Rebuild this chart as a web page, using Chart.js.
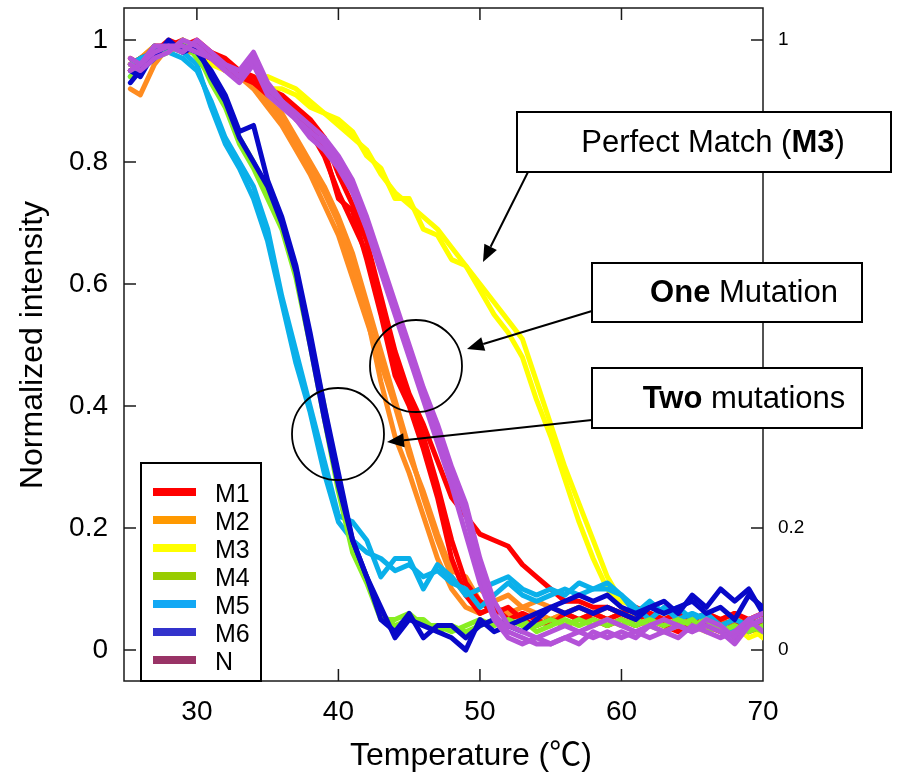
<!DOCTYPE html>
<html>
<head>
<meta charset="utf-8">
<script src="https://cdn.jsdelivr.net/npm/chart.js@4.4.1/dist/chart.umd.min.js"></script>
<style>
  html, body { margin: 0; padding: 0; background: #fff; }
  #wrap { width: 899px; height: 774px; }
</style>
</head>
<body>
<div id="wrap"><canvas id="chart" width="899" height="774"></canvas></div>
<script>
// melting curves, temperature in degC
const temps = [25.3, 26, 27, 28, 29, 30, 31, 32, 33, 34, 35, 36, 37, 38, 39, 40, 41, 42, 43, 44, 45, 46, 47, 48, 49, 50, 51, 52, 53, 54, 55, 56, 57, 58, 59, 60, 61, 62, 63, 64, 65, 66, 67, 68, 69, 70];

const m1a = [0.96,0.97,0.98,1.00,0.99,0.99,0.98,0.97,0.95,0.93,
  0.92,0.90,0.88,0.86,0.82,0.74,0.72,0.64,0.55,0.45,
  0.40,0.33,0.25,0.15,0.09,0.06,0.07,0.05,0.06,0.05,
  0.04,0.06,0.05,0.06,0.05,0.06,0.05,0.06,0.04,0.05,
  0.04,0.05,0.04,0.05,0.03,0.04];
const m1b = [0.95,0.96,0.99,0.99,1.00,0.98,0.97,0.96,0.95,0.94,
  0.92,0.91,0.89,0.87,0.84,0.78,0.73,0.67,0.58,0.49,
  0.42,0.37,0.31,0.25,0.22,0.19,0.18,0.17,0.14,0.12,
  0.10,0.08,0.08,0.07,0.07,0.06,0.07,0.06,0.05,0.06,
  0.05,0.06,0.05,0.06,0.05,0.06];
const m1c = [0.97,0.96,0.98,0.99,0.99,1.00,0.98,0.96,0.94,0.93,
  0.91,0.90,0.87,0.85,0.81,0.75,0.70,0.65,0.57,0.47,
  0.41,0.35,0.27,0.18,0.11,0.08,0.06,0.07,0.05,0.04,
  0.05,0.04,0.05,0.05,0.04,0.05,0.04,0.05,0.04,0.03,
  0.05,0.04,0.03,0.04,0.05,0.04];

const m2a = [0.92,0.91,0.96,0.99,0.98,0.98,0.97,0.96,0.95,0.93,
  0.90,0.87,0.83,0.79,0.75,0.70,0.63,0.55,0.44,0.35,
  0.29,0.22,0.15,0.10,0.07,0.06,0.07,0.06,0.05,0.06,
  0.05,0.06,0.05,0.06,0.05,0.06,0.05,0.04,0.05,0.06,
  0.05,0.04,0.05,0.04,0.05,0.04];
const m2b = [0.95,0.96,0.98,0.99,0.99,0.98,0.97,0.95,0.94,0.92,
  0.89,0.86,0.82,0.78,0.73,0.68,0.61,0.54,0.47,0.40,
  0.32,0.26,0.19,0.13,0.12,0.08,0.07,0.06,0.07,0.06,
  0.05,0.06,0.07,0.06,0.05,0.06,0.05,0.06,0.05,0.04,
  0.05,0.06,0.05,0.04,0.05,0.06];
const m2c = [0.96,0.97,0.99,0.98,1.00,0.99,0.97,0.96,0.94,0.93,
  0.90,0.88,0.84,0.80,0.76,0.71,0.65,0.57,0.49,0.41,
  0.33,0.25,0.18,0.12,0.09,0.10,0.08,0.09,0.07,0.08,
  0.07,0.06,0.07,0.06,0.07,0.06,0.05,0.06,0.05,0.06,
  0.05,0.04,0.05,0.06,0.04,0.05];

const m3a = [0.95,0.96,0.98,0.99,0.98,0.99,0.97,0.96,0.95,0.93,
  0.94,0.93,0.92,0.90,0.88,0.86,0.84,0.82,0.78,0.75,
  0.73,0.71,0.69,0.66,0.63,0.60,0.57,0.54,0.51,0.44,
  0.37,0.30,0.24,0.18,0.12,0.08,0.07,0.05,0.05,0.04,
  0.05,0.04,0.03,0.04,0.02,0.03];
const m3b = [0.96,0.97,0.99,0.98,0.99,0.98,0.96,0.95,0.94,0.94,
  0.92,0.92,0.91,0.89,0.88,0.87,0.85,0.81,0.79,0.74,
  0.74,0.69,0.68,0.64,0.63,0.59,0.55,0.52,0.48,0.41,
  0.35,0.28,0.21,0.15,0.10,0.07,0.05,0.06,0.04,0.05,
  0.04,0.03,0.04,0.03,0.04,0.02];

const m4a = [0.96,0.95,0.98,0.99,0.99,0.98,0.93,0.89,0.83,0.79,
  0.74,0.69,0.61,0.50,0.38,0.26,0.16,0.11,0.05,0.05,
  0.06,0.04,0.04,0.03,0.04,0.05,0.04,0.05,0.04,0.04,
  0.05,0.04,0.05,0.04,0.05,0.04,0.05,0.04,0.03,0.04,
  0.05,0.03,0.04,0.02,0.04,0.03];
const m4b = [0.94,0.95,0.97,0.98,1.00,0.97,0.94,0.90,0.84,0.80,
  0.75,0.70,0.62,0.51,0.40,0.27,0.17,0.12,0.06,0.04,
  0.05,0.05,0.03,0.04,0.03,0.04,0.05,0.04,0.05,0.03,
  0.04,0.05,0.04,0.05,0.04,0.05,0.04,0.05,0.04,0.05,
  0.04,0.05,0.03,0.04,0.03,0.04];

const m5a = [0.94,0.96,0.99,0.98,0.97,0.95,0.90,0.84,0.80,0.76,
  0.69,0.58,0.49,0.40,0.31,0.22,0.21,0.18,0.12,0.15,
  0.15,0.10,0.14,0.12,0.09,0.10,0.11,0.12,0.10,0.09,
  0.10,0.09,0.11,0.10,0.10,0.09,0.07,0.05,0.07,0.05,
  0.06,0.05,0.04,0.03,0.05,0.03];
const m5b = [0.96,0.97,0.98,0.99,0.98,0.96,0.89,0.83,0.79,0.74,
  0.67,0.57,0.47,0.39,0.29,0.21,0.18,0.16,0.15,0.13,
  0.14,0.12,0.13,0.11,0.10,0.07,0.09,0.11,0.09,0.08,
  0.09,0.10,0.09,0.10,0.11,0.09,0.06,0.08,0.06,0.07,
  0.05,0.06,0.04,0.05,0.04,0.05];

const m6a = [0.95,0.94,0.98,0.99,0.99,0.98,0.95,0.91,0.85,0.86,
  0.77,0.71,0.63,0.52,0.40,0.29,0.18,0.12,0.05,0.03,
  0.06,0.02,0.04,0.04,0.02,0.04,0.05,0.04,0.05,0.06,
  0.07,0.06,0.07,0.06,0.07,0.06,0.05,0.07,0.06,0.07,
  0.08,0.06,0.07,0.05,0.09,0.07];
const m6b = [0.93,0.95,0.97,1.00,0.98,0.99,0.94,0.90,0.84,0.80,
  0.76,0.70,0.62,0.50,0.38,0.27,0.18,0.12,0.07,0.02,
  0.05,0.04,0.03,0.02,0.00,0.05,0.03,0.04,0.03,0.05,
  0.07,0.08,0.09,0.08,0.09,0.07,0.06,0.07,0.08,0.06,
  0.09,0.07,0.10,0.08,0.10,0.06];

const nA = [0.95,0.96,0.98,0.99,0.99,0.98,0.97,0.96,0.94,0.97,
  0.92,0.90,0.87,0.85,0.83,0.80,0.76,0.70,0.63,0.56,
  0.49,0.42,0.35,0.29,0.22,0.13,0.06,0.03,0.02,0.01,
  0.01,0.02,0.03,0.02,0.03,0.02,0.03,0.02,0.03,0.04,
  0.03,0.04,0.03,0.01,0.04,0.05];
const nB = [0.96,0.95,0.97,0.98,1.00,0.99,0.97,0.95,0.93,0.96,
  0.91,0.89,0.87,0.84,0.82,0.79,0.75,0.69,0.62,0.55,
  0.48,0.41,0.34,0.27,0.19,0.11,0.05,0.02,0.01,0.02,
  0.01,0.02,0.01,0.03,0.02,0.03,0.02,0.04,0.03,0.02,
  0.04,0.03,0.02,0.03,0.05,0.03];
const nC = [0.97,0.96,0.99,0.99,0.98,1.00,0.98,0.96,0.95,0.98,
  0.93,0.90,0.88,0.86,0.84,0.81,0.77,0.71,0.64,0.57,
  0.50,0.43,0.37,0.30,0.24,0.15,0.08,0.04,0.03,0.02,
  0.03,0.04,0.03,0.04,0.05,0.04,0.03,0.04,0.05,0.04,
  0.03,0.05,0.04,0.02,0.05,0.06];

const seriesNames = ['M1', 'M2', 'M3', 'M4', 'M5', 'M6', 'N'];
const seriesTraces = [[m1a, m1b, m1c], [m2a, m2b, m2c], [m3a, m3b], [m4a, m4b], [m5a, m5b], [m6a, m6b], [nA, nB, nC]];
const lineColors = ['#ff0000', '#ff8c20', '#ffff00', '#88ee22', '#0ab0ea', '#0808c8', '#b452d8'];
const legendColors = ['#ff0000', '#ff9900', '#ffff00', '#99cc00', '#12a8f4', '#3333cc', '#993366'];
const drawOrder = [4, 5, 6, 2, 3, 1, 0]; // lower = on top

const xTicks = [30, 40, 50, 60, 70];
const yTicks = [0, 0.2, 0.4, 0.6, 0.8, 1];
const y2Ticks = [0, 0.2, 1];

const FONT = "'Liberation Sans', Arial, 'Noto Sans CJK JP', sans-serif";
Chart.defaults.font.family = FONT;
Chart.defaults.color = '#000';

const datasets = [];
seriesNames.forEach((name, s) => {
  seriesTraces[s].forEach(tr => {
    datasets.push({
      label: name,
      data: temps.map((t, i) => ({ x: t, y: tr[i] })),
      borderColor: lineColors[s],
      borderWidth: 5,
      borderJoinStyle: 'round',
      borderCapStyle: 'round',
      pointRadius: 0,
      fill: false,
      tension: 0,
      order: drawOrder[s]
    });
  });
});

const fmt = v => String(Math.round(v * 10) / 10);

// keep the plot box where the reference has it
const fixPad = s => { s.paddingTop = 0; s.paddingBottom = 0; s.paddingLeft = 0; s.paddingRight = 0; };

function arrow(ctx, x1, y1, x2, y2) {
  const a = Math.atan2(y2 - y1, x2 - x1);
  const hl = 17, hw = 7;
  const bx = x2 - Math.cos(a) * hl, by = y2 - Math.sin(a) * hl;
  ctx.beginPath();
  ctx.moveTo(x1, y1);
  ctx.lineTo(bx, by);
  ctx.stroke();
  ctx.beginPath();
  ctx.moveTo(x2, y2);
  ctx.lineTo(bx + Math.sin(a) * hw, by - Math.cos(a) * hw);
  ctx.lineTo(bx - Math.sin(a) * hw, by + Math.cos(a) * hw);
  ctx.closePath();
  ctx.fill();
}

// label made of [text, bold] pieces, centred on cx
function richText(ctx, parts, cx, cy, size) {
  let total = 0;
  const widths = parts.map(([txt, bold]) => {
    ctx.font = (bold ? 'bold ' : '') + size + 'px ' + FONT;
    const w = ctx.measureText(txt).width;
    total += w;
    return w;
  });
  let x = cx - total / 2;
  ctx.textAlign = 'left';
  ctx.textBaseline = 'middle';
  parts.forEach(([txt, bold], i) => {
    ctx.font = (bold ? 'bold ' : '') + size + 'px ' + FONT;
    ctx.fillText(txt, x, cy);
    x += widths[i];
  });
}

const framePlugin = {
  id: 'frame',
  beforeDatasetsDraw(chart) {
    const { ctx, chartArea: ca, scales } = chart;
    ctx.save();
    ctx.strokeStyle = '#1a1a1a';
    ctx.lineWidth = 1.5;
    ctx.strokeRect(ca.left, ca.top, ca.right - ca.left, ca.bottom - ca.top);
    ctx.beginPath();
    xTicks.forEach(v => {
      const px = scales.x.getPixelForValue(v);
      if (px >= ca.right - 2) return;
      ctx.moveTo(px, ca.bottom); ctx.lineTo(px, ca.bottom - 12);
      ctx.moveTo(px, ca.top); ctx.lineTo(px, ca.top + 12);
    });
    yTicks.forEach(v => {
      const py = scales.y.getPixelForValue(v);
      ctx.moveTo(ca.left, py); ctx.lineTo(ca.left + 12, py);
    });
    y2Ticks.forEach(v => {
      const py = scales.y2.getPixelForValue(v);
      ctx.moveTo(ca.right, py); ctx.lineTo(ca.right - 12, py);
    });
    ctx.stroke();
    ctx.restore();
  },
  afterDraw(chart) {
    const { ctx } = chart;
    ctx.save();
    ctx.fillStyle = '#000';

    // axis titles
    ctx.font = '32px ' + FONT;
    ctx.textAlign = 'center';
    ctx.textBaseline = 'alphabetic';
    ctx.fillText('Temperature (\u2103)', 471, 765);
    ctx.save();
    ctx.translate(33, 345);
    ctx.rotate(-Math.PI / 2);
    ctx.textBaseline = 'middle';
    ctx.fillText('Normalized intensity', 0, 0);
    ctx.restore();

    // arrows
    ctx.strokeStyle = '#000';
    ctx.lineWidth = 2;
    arrow(ctx, 528, 172, 483, 262);
    arrow(ctx, 592, 311, 467, 349);
    arrow(ctx, 592, 420, 387, 442);

    // label boxes
    const boxes = [
      { x: 517, y: 112, w: 374, h: 60, parts: [['Perfect Match (', false], ['M3', true], [')', false]], cx: 713 },
      { x: 592, y: 263, w: 270, h: 59, parts: [['One', true], [' Mutation', false]], cx: 744 },
      { x: 592, y: 368, w: 270, h: 60, parts: [['Two', true], [' mutations', false]], cx: 744 }
    ];
    boxes.forEach(b => {
      ctx.fillStyle = '#fff';
      ctx.fillRect(b.x, b.y, b.w, b.h);
      ctx.strokeRect(b.x, b.y, b.w, b.h);
      ctx.fillStyle = '#000';
      richText(ctx, b.parts, b.cx, b.y + b.h / 2 + 1, 31);
    });

    // circles
    ctx.lineWidth = 1.8;
    [[416, 366], [338, 434]].forEach(([cx, cy]) => {
      ctx.beginPath();
      ctx.arc(cx, cy, 46, 0, Math.PI * 2);
      ctx.stroke();
    });

    // legend
    ctx.fillStyle = '#fff';
    ctx.fillRect(141, 463, 120, 218);
    ctx.lineWidth = 2;
    ctx.strokeRect(141, 463, 120, 218);
    ctx.font = '25px ' + FONT;
    ctx.textAlign = 'left';
    ctx.textBaseline = 'middle';
    seriesNames.forEach((name, i) => {
      const y = 492 + i * 28;
      ctx.strokeStyle = legendColors[i];
      ctx.lineWidth = 8;
      ctx.beginPath();
      ctx.moveTo(153, y);
      ctx.lineTo(196, y);
      ctx.stroke();
      ctx.fillStyle = '#000';
      ctx.fillText(name, 215, y + 3);
    });
    ctx.restore();
  }
};

new Chart(document.getElementById('chart'), {
  type: 'line',
  data: { datasets },
  plugins: [framePlugin],
  options: {
    responsive: false,
    animation: false,
    layout: { padding: { top: 8, left: 0, right: 0, bottom: 0 } },
    plugins: { legend: { display: false }, tooltip: { enabled: false } },
    scales: {
      x: {
        type: 'linear', min: 24.85, max: 70,
        afterBuildTicks: s => { s.ticks = xTicks.map(v => ({ value: v })); },
        afterFit: s => { s.height = 93; fixPad(s); },
        grid: { display: false, drawTicks: false },
        border: { display: false },
        ticks: { font: { size: 28 }, color: '#000', padding: 14, maxRotation: 0, autoSkip: false }
      },
      y: {
        position: 'left', min: -0.0508, max: 1.0525,
        afterBuildTicks: s => { s.ticks = yTicks.map(v => ({ value: v })); },
        afterFit: s => { s.width = 124; fixPad(s); },
        grid: { display: false, drawTicks: false },
        border: { display: false },
        ticks: { font: { size: 28 }, color: '#000', padding: 16, callback: fmt }
      },
      y2: {
        position: 'right', min: -0.0508, max: 1.0525,
        afterBuildTicks: s => { s.ticks = y2Ticks.map(v => ({ value: v })); },
        afterFit: s => { s.width = 136; fixPad(s); },
        grid: { display: false, drawTicks: false },
        border: { display: false },
        ticks: { font: { size: 19 }, color: '#000', padding: 15, callback: fmt }
      }
    }
  }
});
</script>
</body>
</html>
